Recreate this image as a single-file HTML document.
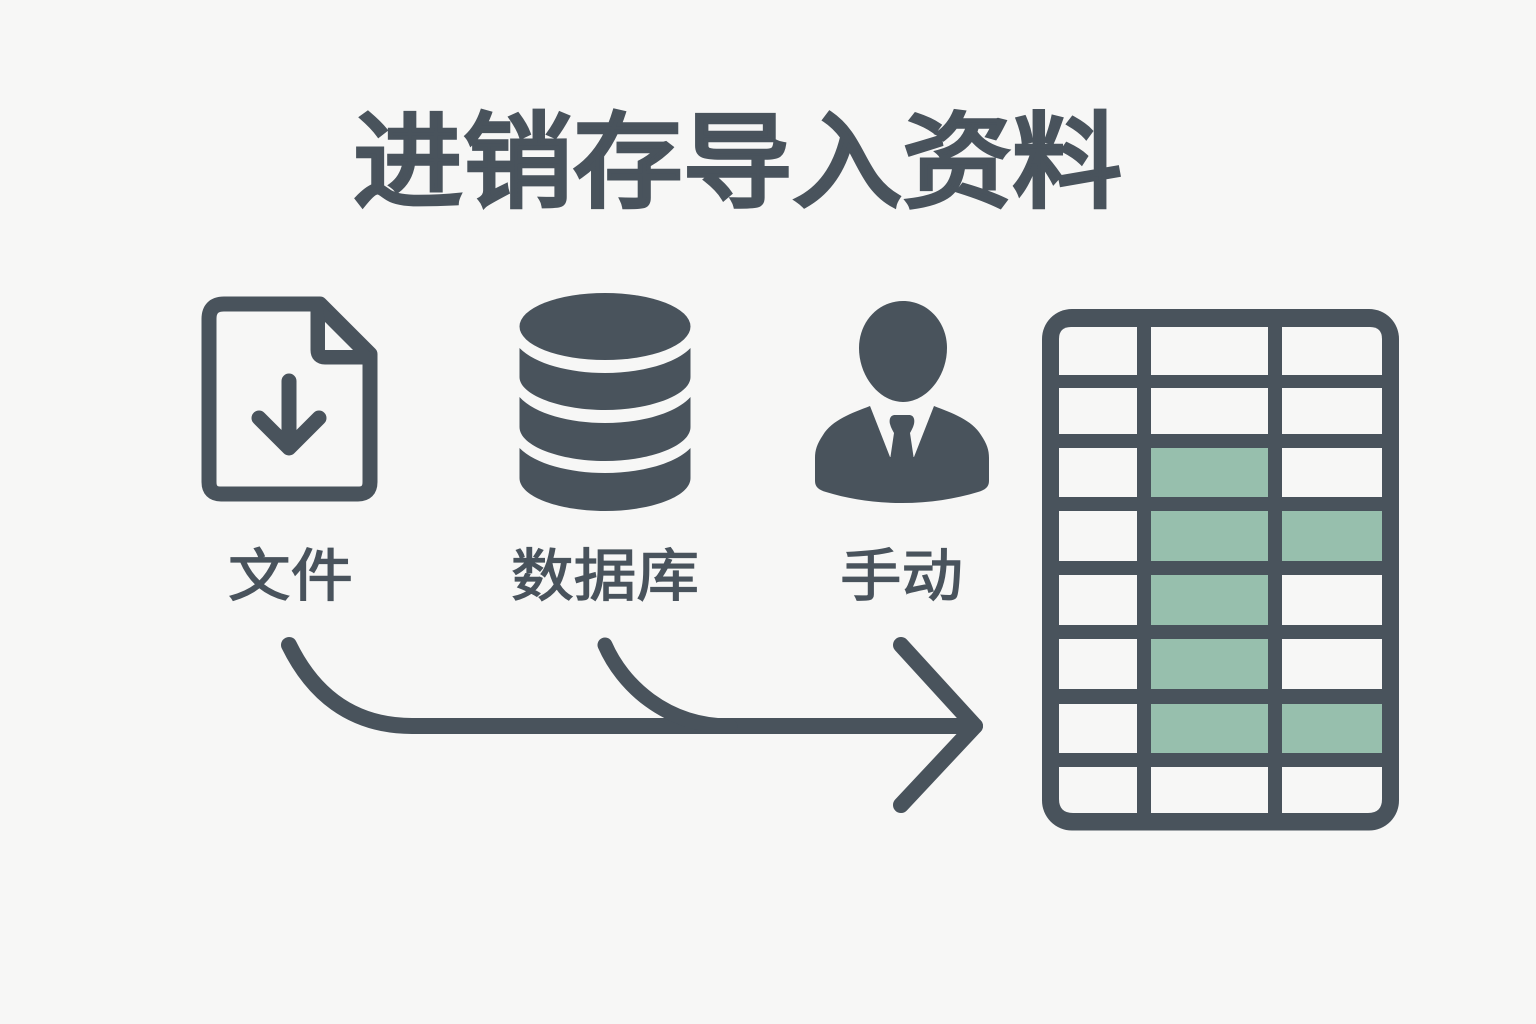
<!DOCTYPE html>
<html lang="zh">
<head>
<meta charset="utf-8">
<title>进销存导入资料</title>
<style>
html,body{margin:0;padding:0;width:1536px;height:1024px;background:#f7f7f6;overflow:hidden}
svg{display:block}
text{font-family:"Liberation Sans","WenQuanYi Zen Hei","Noto Sans CJK SC",sans-serif;fill:#49535c}
</style>
</head>
<body>
<svg width="1536" height="1024" viewBox="0 0 1536 1024" xmlns="http://www.w3.org/2000/svg">
<rect width="1536" height="1024" fill="#f7f7f6"/>

<text x="353" y="198.5" font-size="104" font-weight="400" stroke="#49535c" stroke-width="4.5" stroke-linejoin="miter" textLength="769" lengthAdjust="spacingAndGlyphs">进销存导入资料</text>

<!-- file icon -->
<path d="M224 304H320L370 354V482Q370 494 358 494H221Q209 494 209 482V319Q209 304 224 304Z" fill="none" stroke="#49535c" stroke-width="15" stroke-linejoin="round"/>
<path d="M318 304V350Q318 357 325 357H370" fill="none" stroke="#49535c" stroke-width="15"/>
<path d="M322 304L370 352L353 352L325 322Z" fill="#49535c"/>
<path d="M325 322L353 350H325Z" fill="#f7f7f6"/>
<path d="M289 381V445M259 418L289 448L319 418" fill="none" stroke="#49535c" stroke-width="15" stroke-linecap="round" stroke-linejoin="round"/>

<!-- database -->
<g fill="#49535c">
<ellipse cx="605" cy="326.5" rx="85.5" ry="33.5"/>
<path d="M519.5 348C535 364 570 373 605 373S675 364 690.5 348V377C690.5 395 650 410 605 410S519.5 395 519.5 377Z"/>
<path d="M519.5 397C535 414 570 423 605 423S675 414 690.5 397V427C690.5 446 650 461 605 461S519.5 446 519.5 427Z"/>
<path d="M519.5 448C535 464 570 473 605 473S675 464 690.5 448V478C690.5 497 650 511 605 511S519.5 497 519.5 478Z"/>
</g>

<!-- person -->
<g fill="#49535c">
<path d="M903 301C928 301 947 322 947 348C947 377 926 402 903 402C880 402 859 377 859 348C859 322 878 301 903 301Z"/>
<path d="M870 406L890 457L914 457L934 406C952 413 972 420 981 435C987 444 989 450 989 458V481C989 487 985 490 978 492C955 499 930 503 902 503C874 503 849 499 826 492C819 490 815 487 815 481V458C815 450 817 444 823 435C832 420 852 413 870 406Z"/>
<path d="M895 415H909C914 415 915 420 914 424C913 428 911 431 910 433L914 460H890L894 433C893 431 891 428 890 424C889 420 890 415 895 415Z"/>
</g>

<!-- labels -->
<g font-size="57" stroke="#49535c" stroke-width="1.3">
<text x="228" y="595.5" textLength="125" lengthAdjust="spacingAndGlyphs">文件</text>
<text x="511" y="595.5" textLength="188" lengthAdjust="spacingAndGlyphs">数据库</text>
<text x="840" y="595.5" textLength="123" lengthAdjust="spacingAndGlyphs">手动</text>
</g>

<!-- connectors -->
<g fill="none" stroke="#49535c" stroke-linecap="round" stroke-linejoin="round">
<path d="M289 645C312 692 350 726 412 726H975" stroke-width="16"/>
<path d="M605 645C622 684 665 726 730 726" stroke-width="15"/>
<path d="M901 645L975 726L901 805" stroke-width="16"/>
</g>

<!-- table -->
<rect x="1042" y="309" width="357" height="521.5" rx="30" fill="#49535c"/>
<g fill="#f7f7f6">
<path d="M1071 327H1137V375H1059V339Q1059 327 1071 327Z"/>
<rect x="1151" y="327" width="117" height="48"/>
<path d="M1282 327H1370Q1382 327 1382 339V375H1282Z"/>
<rect x="1059" y="388" width="78" height="46"/>
<rect x="1151" y="388" width="117" height="46"/>
<rect x="1282" y="388" width="100" height="46"/>
<rect x="1059" y="448" width="78" height="49"/>
<rect x="1282" y="448" width="100" height="49"/>
<rect x="1059" y="511" width="78" height="50"/>
<rect x="1059" y="575" width="78" height="50"/>
<rect x="1282" y="575" width="100" height="50"/>
<rect x="1059" y="639" width="78" height="50"/>
<rect x="1282" y="639" width="100" height="50"/>
<rect x="1059" y="704" width="78" height="49"/>
<path d="M1059 767H1137V813H1073Q1059 813 1059 799Z"/>
<rect x="1151" y="767" width="117" height="46"/>
<path d="M1282 767H1382V799Q1382 813 1368 813H1282Z"/>
</g>
<g fill="#97bfad">
<rect x="1151" y="448" width="117" height="49"/>
<rect x="1151" y="511" width="117" height="50"/>
<rect x="1282" y="511" width="100" height="50"/>
<rect x="1151" y="575" width="117" height="50"/>
<rect x="1151" y="639" width="117" height="50"/>
<rect x="1151" y="704" width="117" height="49"/>
<rect x="1282" y="704" width="100" height="49"/>
</g>
</svg>
</body>
</html>
